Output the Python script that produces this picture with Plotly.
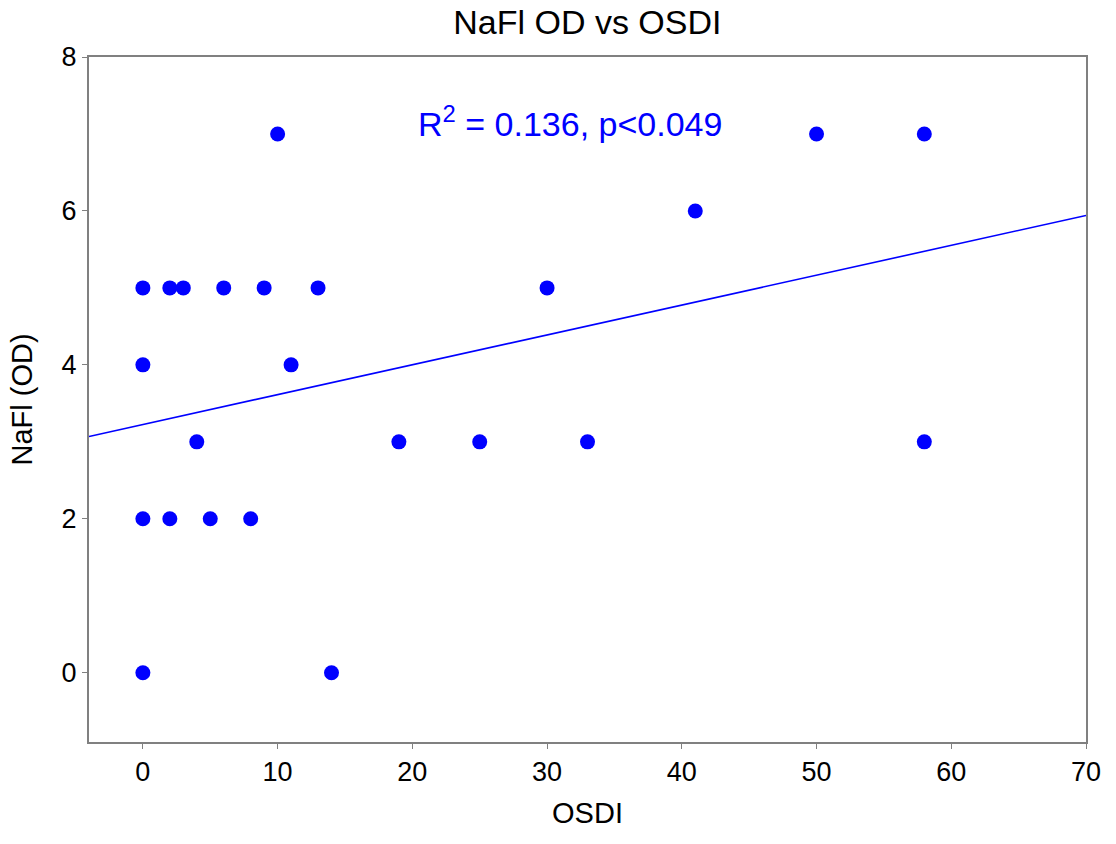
import plotly.graph_objects as go

osdi = [0, 0, 0, 0, 2, 3, 2, 4, 5, 6, 8, 9, 10, 11, 13, 14, 19, 25, 30, 33, 41, 50, 58, 58]
nafl_od = [5, 4, 2, 0, 5, 5, 2, 3, 2, 5, 2, 5, 7, 4, 5, 0, 3, 3, 5, 3, 6, 7, 7, 3]

fit_x = [-4, 70]
fit_intercept = 3.225
fit_slope = 0.0388
fit_y = [fit_intercept + fit_slope * v for v in fit_x]

x_ticks = [0, 10, 20, 30, 40, 50, 60, 70]
y_ticks = [0, 2, 4, 6, 8]

FONT = "Liberation Sans, Arial, sans-serif"

fig = go.Figure()
fig.add_trace(go.Scatter(x=fit_x, y=fit_y, mode="lines",
                         line=dict(color="#0000ff", width=1.6),
                         showlegend=False, hoverinfo="skip"))
fig.add_trace(go.Scatter(x=osdi, y=nafl_od, mode="markers",
                         marker=dict(color="#0000ff", size=15, line=dict(width=0)),
                         showlegend=False, cliponaxis=False))

axis_common = dict(showline=True, linecolor="#808080", linewidth=2, mirror=True,
                   ticks="outside", ticklen=5, tickwidth=1, tickcolor="#808080",
                   showgrid=False, zeroline=False,
                   tickfont=dict(family=FONT, size=27, color="black"))

fig.update_layout(
    width=1116, height=844,
    margin=dict(l=89, r=30, t=57, b=102),
    paper_bgcolor="white", plot_bgcolor="white",
    title=dict(text="NaFl OD vs OSDI", x=0.5263, xanchor="center",
               y=1 - 22 / 844, yanchor="middle",
               font=dict(family=FONT, size=34, color="black")),
    xaxis=dict(range=[-4, 70], tickvals=x_ticks,
               title=dict(text="OSDI", font=dict(family=FONT, size=29, color="black"), standoff=16),
               **axis_common),
    yaxis=dict(range=[-0.9, 8], tickvals=y_ticks,
               title=dict(text="NaFl (OD)", font=dict(family=FONT, size=29, color="black"), standoff=20),
               **axis_common),
    annotations=[dict(text="R<sup>2</sup> = 0.136, p<0.049", x=31.7, y=7.16,
                      xref="x", yref="y", showarrow=False, xanchor="center", yanchor="middle",
                      font=dict(family=FONT, size=34, color="#0000ff"))],
)

fig.write_html("out.html")
